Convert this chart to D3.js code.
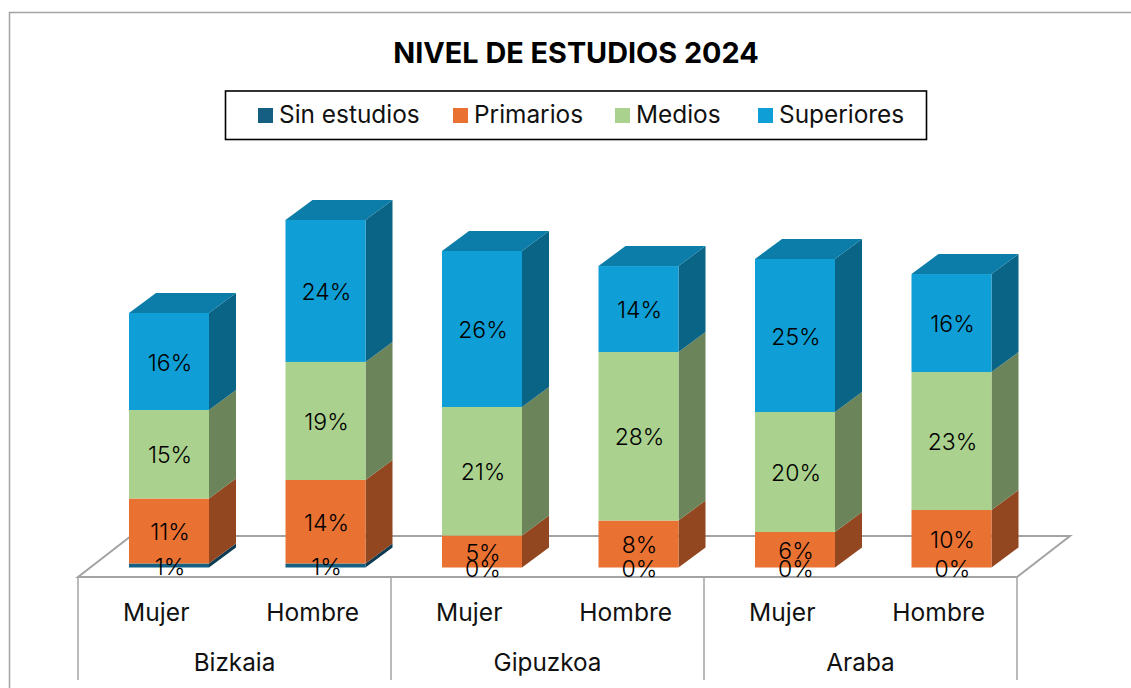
<!DOCTYPE html>
<html>
<head>
<meta charset="utf-8">
<script src="https://cdn.jsdelivr.net/npm/d3@7/dist/d3.min.js"></script>
<style>
html,body{margin:0;padding:0;background:#fff;overflow:hidden}
svg{display:block}
text{font-family:Inter,"Noto Sans",sans-serif;fill:#111}
</style>
</head>
<body>
<svg id="c" width="1131" height="688"></svg>
<script>
const titleText = "NIVEL DE ESTUDIOS 2024";
const barKeys = ["B-M","B-H","G-M","G-H","A-M","A-H"];
const genders = ["Mujer","Hombre","Mujer","Hombre","Mujer","Hombre"];
const regions = ["Bizkaia","Gipuzkoa","Araba"];
const seriesNames = ["Sin estudios","Primarios","Medios","Superiores"];
const seriesColors = ["#156082","#E97132","#AAD18D","#0F9ED5"];
const sinEstudios = [0.67,0.67,0,0,0,0];
const primarios   = [10.83,13.92,5.33,7.83,5.92,9.58];
const medios      = [14.75,19.67,21.42,28.08,20,23];
const superiores  = [16.17,23.67,26,14.33,25.5,16.33];
const sinLabels = ["1%","1%","0%","0%","0%","0%"];
const priLabels = ["11%","14%","5%","8%","6%","10%"];
const medLabels = ["15%","19%","21%","28%","20%","23%"];
const supLabels = ["16%","24%","26%","14%","25%","16%"];
const values = [sinEstudios,primarios,medios,superiores];
const labels = [sinLabels,priLabels,medLabels,supLabels];

const svg = d3.select("#c");
const floorL=78, floorR=1017, floorFront=577, baseY=567.5, backDX=53, backDY=-41, barW=80, barOff=51, depthX=27, depthY=-20;
const x = d3.scaleBand().domain(barKeys).range([floorL,floorR]).padding(0);
const xRegion = d3.scaleBand().domain(regions).range([floorL,floorR]).padding(0);
const y = d3.scaleLinear().domain([0,50]).range([baseY,baseY-300]);
const grey = "#a3a3a3";

// chart frame
svg.append("path").attr("d","M9.5,688V12.5H1131").attr("fill","none").attr("stroke",grey).attr("stroke-width",1.5);

// title
svg.append("text").attr("x",576).attr("y",63).attr("text-anchor","middle")
  .attr("font-size",28.8).attr("font-weight",700).style("fill","#000").text(titleText);

// legend
const legendSwatchX=[258,453,615,758];
svg.append("rect").attr("x",225.5).attr("y",91).attr("width",701).attr("height",48.5).attr("fill","#fff").attr("stroke","#000").attr("stroke-width",1.6);
const lg = svg.append("g").selectAll("g").data(seriesNames).join("g").attr("transform",(d,i)=>`translate(${legendSwatchX[i]},108)`);
lg.append("rect").attr("width",15).attr("height",15).attr("fill",(d,i)=>seriesColors[i]);
lg.append("text").attr("x",21).attr("y",15).attr("font-size",24.4).text(d=>d);

// floor
svg.append("path")
  .attr("d",`M${floorL},${floorFront}L${floorL+backDX},${floorFront+backDY}H${floorR+backDX}L${floorR},${floorFront}Z`)
  .attr("fill","#fff").attr("stroke",grey).attr("stroke-width",2);

// category axis lines
const sep = regions.map((r)=>xRegion(r)).concat([floorR]);
svg.append("g").selectAll("line").data(sep).join("line")
  .attr("x1",d=>d).attr("x2",d=>d).attr("y1",floorFront).attr("y2",680)
  .attr("stroke",grey).attr("stroke-width",1.5);

// bars
function shade(c,k){const r=d3.rgb(c);return d3.rgb(r.r*k,r.g*k,r.b*k).formatHex();}
barKeys.forEach((k,bi)=>{
  const g = svg.append("g");
  const x0 = x(k)+barOff;
  let cum=0;
  const segs = values.map((v,si)=>{const s={si,a:cum,b:cum+v[bi]};cum+=v[bi];return s;}).filter(s=>s.b>s.a);
  const topSeg = segs[segs.length-1];
  segs.forEach(s=>{
    const c=seriesColors[s.si], ya=y(s.a), yb=y(s.b);
    g.append("path").attr("d",`M${x0+barW},${ya}L${x0+barW+depthX},${ya+depthY}V${yb+depthY}L${x0+barW},${yb}Z`)
      .attr("fill",shade(c,0.63));
    g.append("rect").attr("x",x0).attr("y",yb).attr("width",barW).attr("height",ya-yb).attr("fill",c);
  });
  const ty=y(topSeg.b), tc=seriesColors[topSeg.si];
  g.append("path").attr("d",`M${x0},${ty}L${x0+depthX},${ty+depthY}H${x0+barW+depthX}L${x0+barW},${ty}Z`)
    .attr("fill",shade(tc,0.79));
});

// data labels
barKeys.forEach((k,bi)=>{
  const cx = x(k)+barOff+barW/2+1;
  let cum=0;
  values.forEach((v,si)=>{
    const a=cum,b=cum+v[bi];cum=b;
    svg.append("text").attr("x",cx).attr("y",(y(a)+y(b))/2+1).attr("dy","0.35em")
      .attr("text-anchor","middle").attr("font-size",23).attr("font-weight",300).style("fill","#000").text(labels[si][bi]);
  });
});

// category labels
svg.append("g").selectAll("text").data(barKeys).join("text")
  .attr("x",d=>x(d)+x.bandwidth()/2).attr("y",620.5).attr("text-anchor","middle").attr("font-size",24.6)
  .text((d,i)=>genders[i]);
svg.append("g").selectAll("text").data(regions).join("text")
  .attr("x",d=>xRegion(d)+xRegion.bandwidth()/2).attr("y",671).attr("text-anchor","middle").attr("font-size",24.3)
  .text(d=>d);
</script>
</body>
</html>
